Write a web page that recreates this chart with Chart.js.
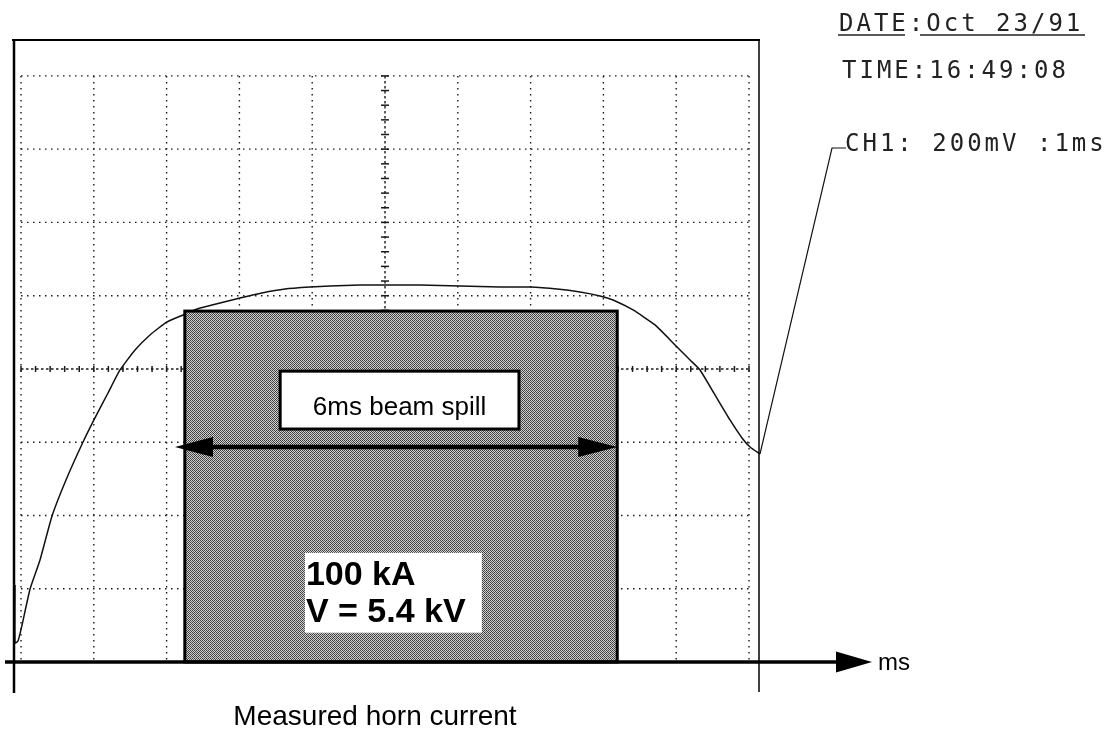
<!DOCTYPE html>
<html><head><meta charset="utf-8">
<style>html,body{margin:0;padding:0;background:#fff;}#wrap{width:1110px;height:733px;position:relative;}</style>
<script src="https://cdn.jsdelivr.net/npm/chart.js@4.4.1/dist/chart.umd.min.js"></script>
</head><body><div id="wrap"><canvas id="c" width="1110" height="733"></canvas></div>
<script>
// Trace of the measured horn current (time in ms, level in screen divisions)
const traceTimeMs = [-0.082,-0.082,-0.041,0.014,0.124,0.261,0.426,0.618,0.852,1.016,1.195,1.360,1.566,1.772,2.005,2.225,2.418,2.734,3.008,3.310,3.626,3.970,4.245,4.657,5.014,5.481,6.030,6.580,6.992,7.363,7.679,7.953,8.132,8.407,8.709,8.984,9.190,9.327,9.533,9.739,9.904,10.014,10.151];
const traceLevelDiv = [1.051,0.259,0.287,0.505,0.997,1.393,1.993,2.485,3.003,3.331,3.672,3.986,4.259,4.464,4.642,4.737,4.819,4.901,4.969,5.038,5.092,5.119,5.133,5.147,5.147,5.147,5.133,5.119,5.119,5.092,5.051,4.997,4.942,4.805,4.601,4.328,4.123,3.986,3.645,3.304,3.058,2.935,2.840];
const gridTimeTicks = [0,1,2,3,4,5,6,7,8,9,10];
const gridLevelTicks = [0,1,2,3,4,5,6,7,8];
const spillWindowMs = [2.25, 8.19];
const spillTopDiv = [4.79];
const spillArrowMs = [2.115, 8.19];
const spillArrowDiv = [2.935];
const spillLabelMs = [3.56, 6.84];
const spillLabelDiv = [3.97, 3.18];
const currentLabelMs = [3.90, 6.33];
const currentLabelDiv = [1.49, 0.40];
const spillText = ["6ms beam spill"];
const currentText = ["100 kA", "V = 5.4 kV"];
const headerText = ["DATE:Oct 23/91", "TIME:16:49:08", "CH1: 200mV :1ms"];
const titleText = ["Measured horn current"];
const axisUnit = ["ms"];

function makePattern(ctx){
  const p = document.createElement('canvas'); p.width = 4; p.height = 4;
  const g = p.getContext('2d');
  g.fillStyle = '#d0d0d0'; g.fillRect(0,0,4,4);
  g.fillStyle = '#3a3a3a';
  [[0,0],[2,0],[1,1],[3,1],[0,2],[2,2],[1,3],[3,3]].forEach(([a,b])=>g.fillRect(a,b,1,1));
  g.fillStyle = '#666'; g.fillRect(3,1,1,1); g.fillRect(1,3,1,1);
  return ctx.createPattern(p,'repeat');
}

function line(ctx,x1,y1,x2,y2){ctx.beginPath();ctx.moveTo(x1,y1);ctx.lineTo(x2,y2);ctx.stroke();}

const scopePlugin = {
  id:'scope',
  beforeDatasetsDraw(chart){
    const ctx = chart.ctx, X = v=>chart.scales.x.getPixelForValue(v), Y = v=>chart.scales.y.getPixelForValue(v);
    ctx.save();
    ctx.strokeStyle = '#1a1a1a'; ctx.lineWidth = 1.4; ctx.setLineDash([1.5,4.5]);
    const t0 = gridTimeTicks[0], t1 = gridTimeTicks[gridTimeTicks.length-1];
    const d0 = gridLevelTicks[0], d1 = gridLevelTicks[gridLevelTicks.length-1];
    gridTimeTicks.forEach(t=>{ if(t!==5) line(ctx,X(t),Y(d1),X(t),Y(d0)); });
    gridLevelTicks.forEach(d=>{ if(d!==4 && d!==0) line(ctx,X(t0),Y(d),X(t1),Y(d)); });
    // center lines, denser
    ctx.setLineDash([2.5,2.5]); ctx.lineWidth = 1.4;
    line(ctx,X(5),Y(d1),X(5),Y(d0));
    line(ctx,X(t0),Y(4),X(t1),Y(4));
    ctx.setLineDash([]); ctx.lineWidth = 1.5;
    for(let v=d0; v<=d1+1e-9; v+=0.2){ line(ctx,X(5)-4,Y(v),X(5)+4,Y(v)); }
    for(let t=t0; t<=t1+1e-9; t+=0.2){ line(ctx,X(t),Y(4)-3,X(t),Y(4)+3); }
    ctx.restore();
  },
  afterDatasetsDraw(chart){
    const ctx = chart.ctx, ca = chart.chartArea;
    const X = v=>chart.scales.x.getPixelForValue(v), Y = v=>chart.scales.y.getPixelForValue(v);
    ctx.save();
    ctx.strokeStyle = '#000'; ctx.fillStyle = '#000';
    // frame
    ctx.lineWidth = 2; line(ctx,ca.left-1,ca.top,ca.right,ca.top);
    ctx.lineWidth = 2.5; line(ctx,14,ca.top,14,693);
    ctx.lineWidth = 1.5; line(ctx,ca.right-1,ca.top,ca.right-1,692);
    // beam spill window
    const bx1 = X(spillWindowMs[0]), bx2 = X(spillWindowMs[1]), by1 = Y(spillTopDiv[0]), by2 = Y(0);
    ctx.fillStyle = makePattern(ctx);
    ctx.fillRect(bx1,by1,bx2-bx1,by2-by1);
    ctx.lineWidth = 3; ctx.strokeStyle = '#000';
    ctx.strokeRect(bx1,by1,bx2-bx1,by2-by1);
    // x axis arrow
    ctx.lineWidth = 3.5; line(ctx,5,Y(0),840,Y(0));
    ctx.fillStyle='#000';
    ctx.beginPath(); ctx.moveTo(836,Y(0)-10.5); ctx.lineTo(872,Y(0)); ctx.lineTo(836,Y(0)+10.5); ctx.closePath(); ctx.fill();
    ctx.font = '24px "Liberation Sans", Arial, sans-serif'; ctx.textBaseline='alphabetic'; ctx.textAlign='left';
    ctx.fillText(axisUnit[0], 878, 670);
    // spill label box
    const lx1 = X(spillLabelMs[0]), lx2 = X(spillLabelMs[1]), ly1 = Y(spillLabelDiv[0]), ly2 = Y(spillLabelDiv[1]);
    ctx.fillStyle = '#fff'; ctx.fillRect(lx1,ly1,lx2-lx1,ly2-ly1);
    ctx.lineWidth = 3; ctx.strokeRect(lx1,ly1,lx2-lx1,ly2-ly1);
    ctx.fillStyle = '#000'; ctx.font = '26px "Liberation Sans", Arial, sans-serif'; ctx.textAlign='center';
    ctx.fillText(spillText[0], (lx1+lx2)/2, ly1+44);
    // double arrow
    const ax1 = X(spillArrowMs[0]), ax2 = X(spillArrowMs[1]), ay = Y(spillArrowDiv[0]);
    ctx.lineWidth = 4.5; line(ctx,ax1+30,ay,ax2-30,ay);
    ctx.beginPath(); ctx.moveTo(ax1,ay); ctx.lineTo(ax1+38,ay-10); ctx.lineTo(ax1+38,ay+10); ctx.closePath(); ctx.fill();
    ctx.beginPath(); ctx.moveTo(ax2,ay); ctx.lineTo(ax2-39,ay-10); ctx.lineTo(ax2-39,ay+10); ctx.closePath(); ctx.fill();
    // current label
    const cx1 = X(currentLabelMs[0]), cx2 = X(currentLabelMs[1]), cy1 = Y(currentLabelDiv[0]), cy2 = Y(currentLabelDiv[1]);
    ctx.fillStyle = '#fff'; ctx.fillRect(cx1,cy1,cx2-cx1,cy2-cy1);
    ctx.fillStyle = '#000'; ctx.font = 'bold 34px "Liberation Sans", Arial, sans-serif'; ctx.textAlign='left';
    ctx.fillText(currentText[0], cx1+1, cy1+32);
    ctx.fillText(currentText[1], cx1+1, cy1+69);
    // title
    ctx.font = '28px "Liberation Sans", Arial, sans-serif'; ctx.textAlign='center';
    ctx.fillText(titleText[0], 375, 725);
    // header (scope printout)
    ctx.font = '24px "DejaVu Sans Mono", monospace'; ctx.textAlign='left'; ctx.fillStyle='#222';
    ctx.letterSpacing = '3px';
    ctx.fillText(headerText[0], 839, 31);
    ctx.fillText(headerText[1], 842, 78);
    ctx.fillText(headerText[2], 845, 151);
    ctx.letterSpacing = '0px';
    ctx.strokeStyle='#222'; ctx.lineWidth=1.5;
    line(ctx,838,35,905,35); line(ctx,920,35,1085,35);
    // leader from trace end to channel label
    const n = traceTimeMs.length-1;
    ctx.lineWidth = 1.2; ctx.strokeStyle = '#111';
    ctx.beginPath(); ctx.moveTo(X(traceTimeMs[n]), Y(traceLevelDiv[n])); ctx.lineTo(832,148); ctx.lineTo(846,148); ctx.stroke();
    ctx.restore();
  }
};

new Chart(document.getElementById('c'), {
  type:'line',
  data:{ datasets:[{
    data: traceTimeMs.map((x,i)=>({x, y: traceLevelDiv[i]})),
    borderColor:'#111', borderWidth:1.5, pointRadius:0, tension:0.15, clip:false, fill:false
  }]},
  options:{
    responsive:false, animation:false, devicePixelRatio:1,
    layout:{ padding:{ left:13, top:40, right:350, bottom:71 } },
    plugins:{ legend:{display:false}, tooltip:{enabled:false} },
    scales:{
      x:{ type:'linear', min:-0.11, max:10.151, display:false },
      y:{ type:'linear', min:0, max:8.49, display:false }
    }
  },
  plugins:[scopePlugin]
});
</script></body></html>
